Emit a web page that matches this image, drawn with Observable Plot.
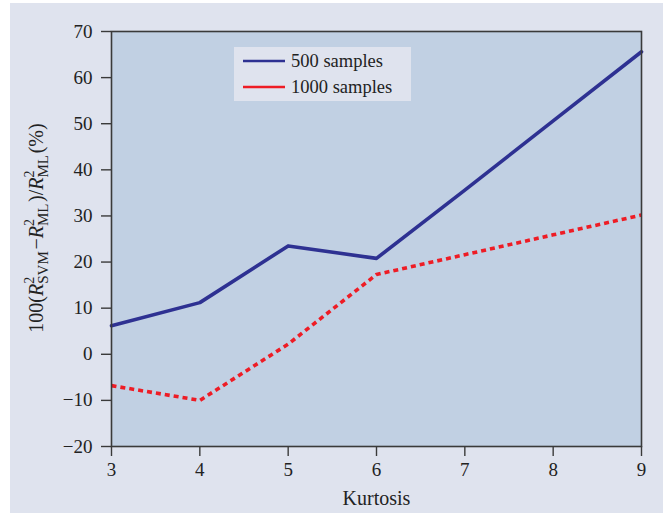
<!DOCTYPE html>
<html>
<head>
<meta charset="utf-8">
<script src="https://cdn.jsdelivr.net/npm/d3@7"></script>
<script src="https://cdn.jsdelivr.net/npm/@observablehq/plot@0.6"></script>
<style>
  html, body { margin: 0; padding: 0; background: #ffffff; }
  #chart { width: 667px; height: 513px; }
</style>
</head>
<body>
<div id="chart"></div>
<script>
const kurtosis = [3, 4, 5, 6, 7, 8, 9];
const samples500 = [6.2, 11.2, 23.5, 20.8, 35.6, 50.6, 65.6];
const samples1000 = [-6.8, -10.0, 2.2, 17.3, 21.6, 25.9, 30.2];
const seriesNames = ["500 samples", "1000 samples"];
const seriesColors = ["#2e3192", "#ee1c25"];
const yTicks = [-20, -10, 0, 10, 20, 30, 40, 50, 60, 70];
const xTicks = [3, 4, 5, 6, 7, 8, 9];

const data500 = kurtosis.map((k, i) => ({k, v: samples500[i]}));
const data1000 = kurtosis.map((k, i) => ({k, v: samples1000[i]}));

const SERIF = "'Liberation Serif', 'DejaVu Serif', serif";
const W = 667, H = 513;
const plot = Plot.plot({
  width: W,
  height: H,
  marginLeft: 111,
  marginRight: 26,
  marginTop: 31,
  marginBottom: 67,
  style: {background: "transparent", fontFamily: SERIF, color: "#222"},
  x: {domain: [3, 9]},
  y: {domain: [-20, 70]},
  marks: [
    Plot.frame({fill: "#c1d0e3", stroke: "none"}),
    Plot.line(data1000, {x: "k", y: "v", stroke: seriesColors[1], strokeWidth: 3.6, strokeDasharray: "5,4", strokeLinecap: "butt", strokeLinejoin: "miter"}),
    Plot.line(data500, {x: "k", y: "v", stroke: seriesColors[0], strokeWidth: 3.6}),
    Plot.frame({stroke: "#3a3a3a", strokeWidth: 1.6}),
    Plot.axisY({ticks: yTicks, tickFormat: "d", tickSize: 10, tickPadding: 9, label: null, stroke: "#3a3a3a", strokeWidth: 1.4}),
    Plot.axisX({ticks: xTicks, tickFormat: "d", tickSize: 10, tickPadding: 6, label: "Kurtosis", labelAnchor: "center", labelArrow: "none", labelOffset: 58, stroke: "#3a3a3a", strokeWidth: 1.4})
  ]
});

const svg = d3.select(plot);
svg.selectAll("g[aria-label$='tick label'] text").style("font-size", "19px");
svg.selectAll("g[aria-label$='tick label']").style("font-size", "19px");
svg.selectAll("g[aria-label$='axis label'] text").style("font-size", "20px");
svg.selectAll("g[aria-label$='axis label']").style("font-size", "20px");

// outer panel background
svg.insert("rect", ":first-child")
  .attr("x", 10).attr("y", 3).attr("width", 653).attr("height", H - 3)
  .attr("fill", "#dfe3ee");

// y-axis label with sub/superscripts
const yl = svg.append("text")
  .attr("transform", "translate(43,228) rotate(-90)")
  .attr("text-anchor", "middle")
  .attr("font-family", SERIF)
  .style("font-size", "20px")
  .attr("fill", "#222");
function rTerm(sub) {
  yl.append("tspan").attr("font-style", "italic").text("R");
  yl.append("tspan").style("font-size", "14px").attr("dy", -9).text("2");
  yl.append("tspan").style("font-size", "15px").attr("dx", -7).attr("dy", 14).text(sub);
  yl.append("tspan").attr("dy", -5).text("\u200A");
}
yl.append("tspan").text("100(");
rTerm("SVM");
yl.append("tspan").text("\u2212");
rTerm("ML");
yl.append("tspan").text(")/");
rTerm("ML");
yl.append("tspan").text("(%)");

// legend inside plot area
const lg = svg.append("g").attr("font-family", SERIF).attr("fill", "#222").attr("text-anchor", "start");
lg.append("rect").attr("x", 234).attr("y", 47).attr("width", 177).attr("height", 54).attr("fill", "#dfe3ee");
seriesNames.forEach((name, i) => {
  const y = 61 + i * 26;
  lg.append("line").attr("x1", 243).attr("x2", 285).attr("y1", y).attr("y2", y)
    .attr("stroke", seriesColors[i]).attr("stroke-width", 2.6);
  lg.append("text").attr("x", 291).attr("y", y).attr("dy", "0.33em").attr("text-anchor", "start")
    .style("font-size", "18.5px").text(name);
});

document.getElementById("chart").appendChild(plot);
</script>
</body>
</html>
